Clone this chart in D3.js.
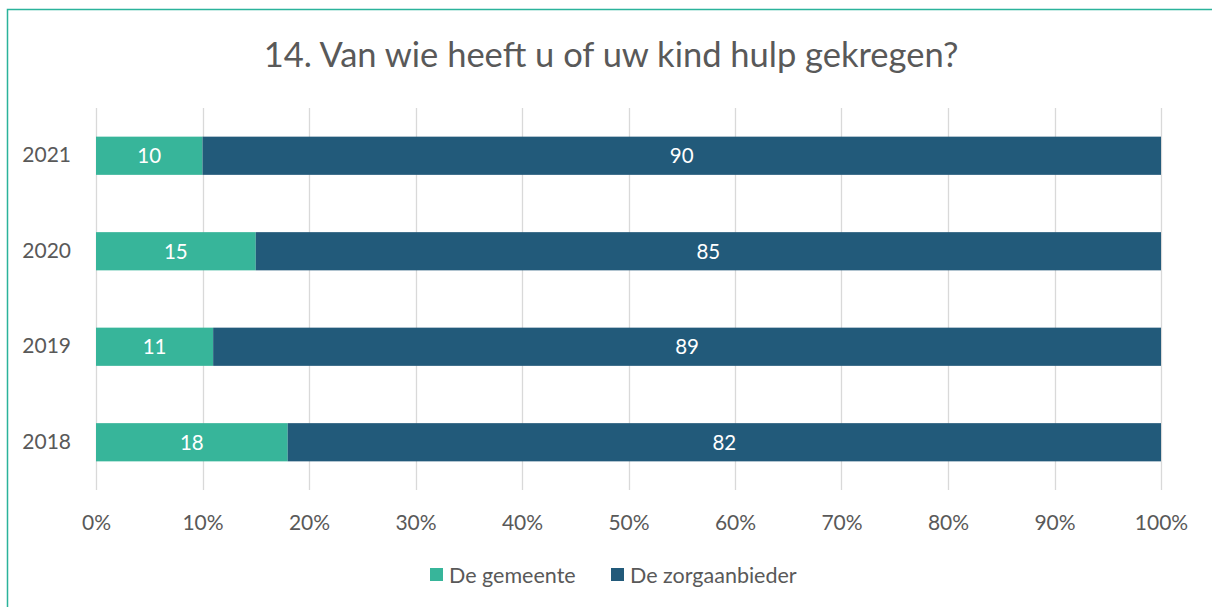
<!DOCTYPE html>
<html>
<head>
<meta charset="utf-8">
<script src="https://cdn.jsdelivr.net/npm/d3@7"></script>
<style>
  body { margin: 0; background: #fff; }
  svg { display: block; font-family: Lato, "Open Sans", sans-serif; }
</style>
</head>
<body>
<svg id="chart" width="1212" height="607"></svg>
<script>
var years = ['2021', '2020', '2019', '2018'];
var gemeente = [10, 15, 11, 18];
var zorgaanbieder = [90, 85, 89, 82];
var seriesNames = ['De gemeente', 'De zorgaanbieder'];
var seriesColors = ['#37b59a', '#225a7a'];
var xTicks = [0, 10, 20, 30, 40, 50, 60, 70, 80, 90, 100];

(function() {
  var svg = d3.select('#chart');

  // kader
  svg.append('rect')
    .attr('x', 7.5).attr('y', 9.5)
    .attr('width', 1220).attr('height', 620)
    .attr('fill', 'none')
    .attr('stroke', '#2bb39b')
    .attr('stroke-width', 1.5);

  svg.append('text')
    .attr('x', 611).attr('y', 67)
    .attr('text-anchor', 'middle')
    .style('font-size', '34.5px')
    .style('font-weight', 400)
    .style('fill', '#595959')
    .text('14. Van wie heeft u of uw kind hulp gekregen?');

  var pLeft = 96, pRight = 1161, pTop = 108, pBottom = 490;

  var x = d3.scaleLinear().domain([0, 100]).range([pLeft, pRight]);
  var y = d3.scaleBand().domain(years).range([pTop, pBottom]).paddingInner(0.6).paddingOuter(0.3);

  // rasterlijnen
  svg.append('g').selectAll('line')
    .data(xTicks)
    .enter().append('line')
      .attr('x1', function(d) { return Math.round(x(d)) + 0.5; })
      .attr('x2', function(d) { return Math.round(x(d)) + 0.5; })
      .attr('y1', pTop).attr('y2', pBottom)
      .style('stroke', '#d9d9d9')
      .style('stroke-width', 1.3);

  var segs = d3.merge(years.map(function(yr, i) {
    return [
      {year: yr, start: 0, value: gemeente[i], s: 0},
      {year: yr, start: gemeente[i], value: zorgaanbieder[i], s: 1}
    ];
  }));

  var bars = svg.append('g').selectAll('g')
    .data(segs)
    .enter().append('g');

  bars.append('rect')
    .attr('x', function(d) { return x(d.start); })
    .attr('y', function(d) { return y(d.year); })
    .attr('width', function(d) { return x(d.start + d.value) - x(d.start); })
    .attr('height', y.bandwidth())
    .attr('fill', function(d) { return seriesColors[d.s]; });

  bars.append('text')
    .attr('x', function(d) { return x(d.start + d.value / 2); })
    .attr('y', function(d) { return y(d.year) + y.bandwidth() / 2; })
    .attr('dy', '0.36em')
    .attr('text-anchor', 'middle')
    .style('font-size', '20.5px')
    .style('fill', '#fff')
    .text(function(d) { return d.value; });

  // assen
  var xAxis = svg.append('g')
    .attr('transform', 'translate(0,' + pBottom + ')')
    .call(d3.axisBottom(x).tickValues(xTicks).tickSize(0).tickPadding(25)
      .tickFormat(function(d) { return d + '%'; }));
  xAxis.select('.domain').remove();
  xAxis.selectAll('text')
    .style('font-size', '21px')
    .style('font-family', 'Lato, sans-serif')
    .style('fill', '#595959');

  var yAxis = svg.append('g')
    .attr('transform', 'translate(' + pLeft + ',0)')
    .call(d3.axisLeft(y).tickSize(0).tickPadding(25));
  yAxis.select('.domain').remove();
  yAxis.selectAll('text')
    .style('font-size', '21px')
    .style('font-family', 'Lato, sans-serif')
    .style('fill', '#595959');

  // legenda
  var legendX = [430, 611];
  var legend = svg.append('g').selectAll('g')
    .data(seriesNames)
    .enter().append('g')
      .attr('transform', function(d, i) { return 'translate(' + legendX[i] + ',568)'; });
  legend.append('rect')
    .attr('width', 13).attr('height', 13)
    .attr('fill', function(d, i) { return seriesColors[i]; });
  legend.append('text')
    .attr('x', 19).attr('y', 7)
    .attr('dy', '0.36em')
    .style('font-size', '21.5px')
    .style('fill', '#595959')
    .text(function(d) { return d; });
})();
</script>
</body>
</html>
